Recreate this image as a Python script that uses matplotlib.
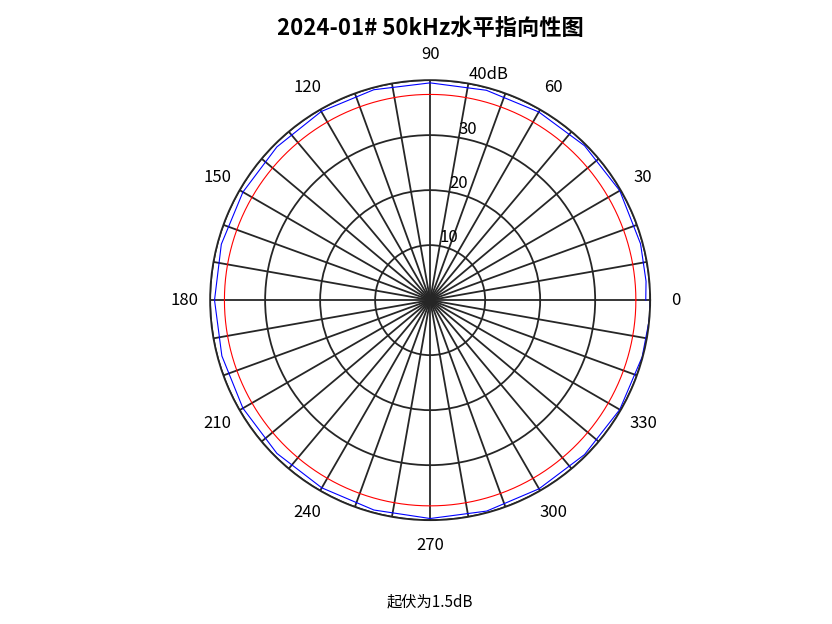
import numpy as np
import matplotlib
matplotlib.use("Agg")
import matplotlib.pyplot as plt

plt.rcParams['font.family'] = ['Noto Sans CJK SC', 'DejaVu Sans']

ref_level = 37.4
angles_deg = [0, 5, 15, 30, 45, 60, 75, 90, 105, 120, 135, 150, 165, 180, 195, 210, 225, 240, 255, 270, 285, 300, 315, 330, 345, 355, 359.9]
level_db = [39.2, 39.4, 39.6, 39.8, 39.7, 39.5, 39.5, 39.5, 39.6, 39.6, 39.4, 39.3, 39.3, 39.2, 39.2, 39.3, 39.4, 39.4, 39.5, 39.7, 39.7, 39.6, 39.7, 39.8, 39.9, 40.0, 40.0]
rticks = [10, 20, 30, 40]
rtick_labels = ['10', '20', '30', '40dB']

fig = plt.figure(figsize=(8.32, 6.24), dpi=100)
ax = fig.add_axes([0.517 - 0.2645, 0.519 - 0.3526, 0.529, 0.7052], projection='polar')
th = np.deg2rad(angles_deg)
ax.plot(np.linspace(0, 2*np.pi, 361), np.full(361, ref_level), color='red', lw=0.8)
ax.plot(th, level_db, color='blue', lw=0.8)
ax.set_ylim(0, 40)
tg = np.arange(0, 360, 10)
ax.set_thetagrids(tg, [str(a) if a % 30 == 0 else '' for a in tg], fontsize=12)
ax.tick_params(axis='x', pad=8)
ax.set_rgrids(rticks, rtick_labels, angle=80, fontsize=12)
ax.grid(True, color='#262626', lw=1.3, alpha=1)
ax.spines['polar'].set_color('#262626')
ax.spines['polar'].set_linewidth(1.3)
fig.text(0.517, 0.955, '2024-01# 50kHz水平指向性图', ha='center', va='center', fontsize=16, fontweight='bold')
fig.text(0.517, 0.035, '起伏为1.5dB', ha='center', va='center', fontsize=11)
fig.savefig('out.png', dpi=100)
